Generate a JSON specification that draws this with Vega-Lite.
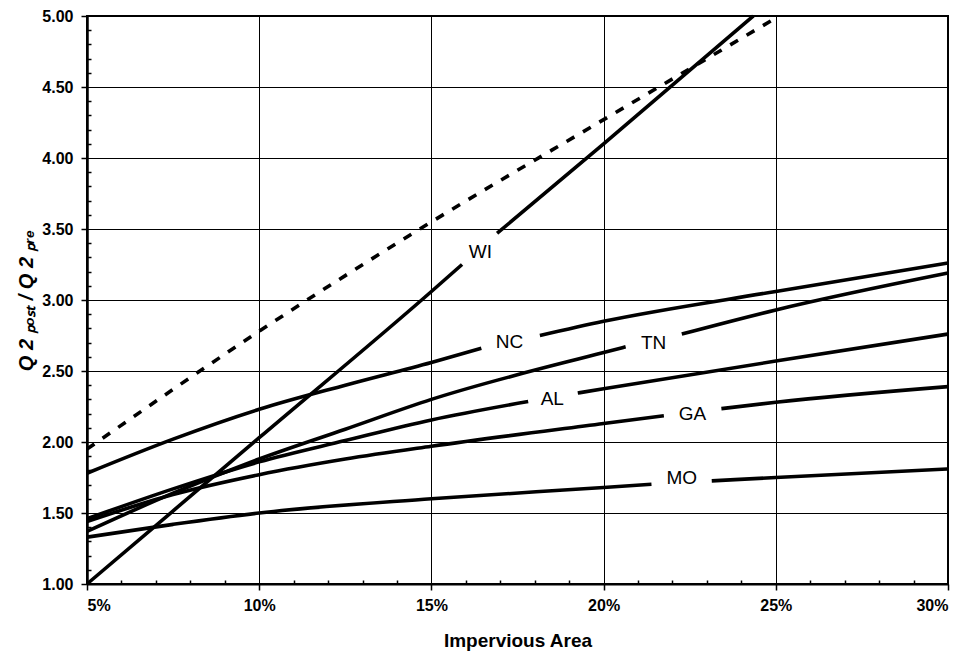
{
  "$schema": "https://vega.github.io/schema/vega-lite/v6.json",
  "width": 861,
  "height": 568,
  "autosize": "none",
  "padding": {"left": 87, "top": 16, "right": 21, "bottom": 73},
  "background": "white",
  "config": {
    "font": "Liberation Sans",
    "view": {"stroke": "black", "strokeWidth": 2}
  },
  "datasets": {
    "curves": [
      {"s": "WI", "seg": "WI1", "x": 5, "y": 1.0},
      {"s": "WI", "seg": "WI1", "x": 10, "y": 2.03},
      {"s": "WI", "seg": "WI1", "x": 15, "y": 3.06},
      {"s": "WI", "seg": "WI1", "x": 15.89, "y": 3.25},
      {"s": "WI", "seg": "WI2", "x": 16.91, "y": 3.47},
      {"s": "WI", "seg": "WI2", "x": 20, "y": 4.1},
      {"s": "WI", "seg": "WI2", "x": 24.35, "y": 5.0},
      {"s": "NC", "seg": "NC1", "x": 5, "y": 1.78},
      {"s": "NC", "seg": "NC1", "x": 7.5, "y": 2.02},
      {"s": "NC", "seg": "NC1", "x": 10, "y": 2.23},
      {"s": "NC", "seg": "NC1", "x": 12.5, "y": 2.4},
      {"s": "NC", "seg": "NC1", "x": 15, "y": 2.56},
      {"s": "NC", "seg": "NC1", "x": 16.45, "y": 2.66},
      {"s": "NC", "seg": "NC2", "x": 18.15, "y": 2.75},
      {"s": "NC", "seg": "NC2", "x": 20, "y": 2.85},
      {"s": "NC", "seg": "NC2", "x": 25, "y": 3.06},
      {"s": "NC", "seg": "NC2", "x": 30, "y": 3.26},
      {"s": "TN", "seg": "TN1", "x": 5, "y": 1.37},
      {"s": "TN", "seg": "TN1", "x": 7.5, "y": 1.64},
      {"s": "TN", "seg": "TN1", "x": 10, "y": 1.88},
      {"s": "TN", "seg": "TN1", "x": 12.5, "y": 2.09},
      {"s": "TN", "seg": "TN1", "x": 15, "y": 2.3},
      {"s": "TN", "seg": "TN1", "x": 20, "y": 2.63},
      {"s": "TN", "seg": "TN1", "x": 20.64, "y": 2.67},
      {"s": "TN", "seg": "TN2", "x": 22.27, "y": 2.76},
      {"s": "TN", "seg": "TN2", "x": 25, "y": 2.93},
      {"s": "TN", "seg": "TN2", "x": 30, "y": 3.19},
      {"s": "AL", "seg": "AL1", "x": 5, "y": 1.46},
      {"s": "AL", "seg": "AL1", "x": 7.5, "y": 1.67},
      {"s": "AL", "seg": "AL1", "x": 10, "y": 1.86},
      {"s": "AL", "seg": "AL1", "x": 12.5, "y": 2.01},
      {"s": "AL", "seg": "AL1", "x": 15, "y": 2.155},
      {"s": "AL", "seg": "AL1", "x": 17.81, "y": 2.285},
      {"s": "AL", "seg": "AL2", "x": 19.25, "y": 2.345},
      {"s": "AL", "seg": "AL2", "x": 20, "y": 2.375},
      {"s": "AL", "seg": "AL2", "x": 25, "y": 2.57},
      {"s": "AL", "seg": "AL2", "x": 30, "y": 2.76},
      {"s": "GA", "seg": "GA1", "x": 5, "y": 1.44},
      {"s": "GA", "seg": "GA1", "x": 7.5, "y": 1.63},
      {"s": "GA", "seg": "GA1", "x": 10, "y": 1.77},
      {"s": "GA", "seg": "GA1", "x": 12.5, "y": 1.88},
      {"s": "GA", "seg": "GA1", "x": 15, "y": 1.97},
      {"s": "GA", "seg": "GA1", "x": 20, "y": 2.13},
      {"s": "GA", "seg": "GA1", "x": 21.75, "y": 2.185},
      {"s": "GA", "seg": "GA2", "x": 23.42, "y": 2.235},
      {"s": "GA", "seg": "GA2", "x": 25, "y": 2.28},
      {"s": "GA", "seg": "GA2", "x": 30, "y": 2.39},
      {"s": "MO", "seg": "MO1", "x": 5, "y": 1.33},
      {"s": "MO", "seg": "MO1", "x": 7.5, "y": 1.42},
      {"s": "MO", "seg": "MO1", "x": 10, "y": 1.5},
      {"s": "MO", "seg": "MO1", "x": 15, "y": 1.6},
      {"s": "MO", "seg": "MO1", "x": 20, "y": 1.68},
      {"s": "MO", "seg": "MO1", "x": 21.39, "y": 1.703},
      {"s": "MO", "seg": "MO2", "x": 23.14, "y": 1.726},
      {"s": "MO", "seg": "MO2", "x": 25, "y": 1.75},
      {"s": "MO", "seg": "MO2", "x": 30, "y": 1.81},
      {"s": "envelope", "seg": "E1", "x": 5, "y": 1.95},
      {"s": "envelope", "seg": "E1", "x": 10, "y": 2.78},
      {"s": "envelope", "seg": "E1", "x": 15, "y": 3.55},
      {"s": "envelope", "seg": "E1", "x": 20, "y": 4.27},
      {"s": "envelope", "seg": "E1", "x": 25.1, "y": 5.0}
    ],
    "labels": [
      {"label": "WI", "x": 16.42, "y": 3.34},
      {"label": "NC", "x": 17.27, "y": 2.706},
      {"label": "TN", "x": 21.45, "y": 2.7},
      {"label": "AL", "x": 18.51, "y": 2.3},
      {"label": "GA", "x": 22.58, "y": 2.2},
      {"label": "MO", "x": 22.27, "y": 1.744}
    ]
  },
  "layer": [
    {
      "data": {"name": "curves"},
      "transform": [{"filter": "datum.s !== 'envelope'"}],
      "mark": {"type": "line", "color": "black", "strokeWidth": 3.6, "interpolate": "monotone", "strokeCap": "butt"},
      "encoding": {
        "x": {
          "field": "x", "type": "quantitative",
          "scale": {"domain": [5, 30], "nice": false, "zero": false},
          "axis": {
            "values": [5, 6, 7, 8, 9, 10, 11, 12, 13, 14, 15, 16, 17, 18, 19, 20, 21, 22, 23, 24, 25, 26, 27, 28, 29, 30],
            "tickCount": 200,
            "labelExpr": "datum.value % 5 === 0 ? datum.value + '%' : ''",
            "title": "Impervious Area",
            "titleFont": "Liberation Sans", "titleFontSize": 19, "titleFontWeight": "bold", "titleColor": "black", "titlePadding": 18,
            "labelFont": "Liberation Sans", "labelFontSize": 16, "labelFontWeight": "bold", "labelColor": "black", "labelPadding": 7,
            "labelOverlap": false,
            "tickColor": "black",
            "tickSize": {"condition": {"test": "datum.value % 5 === 0", "value": 6}, "value": -4},
            "tickWidth": 1.5,
            "domainColor": "black", "domainWidth": 2,
            "grid": true, "gridColor": "black", "gridWidth": 1,
            "gridOpacity": {"condition": {"test": "datum.value % 5 === 0", "value": 1}, "value": 0}
          }
        },
        "y": {
          "field": "y", "type": "quantitative",
          "scale": {"domain": [1, 5], "nice": false, "zero": false},
          "axis": {
            "values": [1, 1.1, 1.2, 1.3, 1.4, 1.5, 1.6, 1.7, 1.8, 1.9, 2, 2.1, 2.2, 2.3, 2.4, 2.5, 2.6, 2.7, 2.8, 2.9, 3, 3.1, 3.2, 3.3, 3.4, 3.5, 3.6, 3.7, 3.8, 3.9, 4, 4.1, 4.2, 4.3, 4.4, 4.5, 4.6, 4.7, 4.8, 4.9, 5],
            "tickCount": 200,
            "labelExpr": "abs(datum.value * 2 - round(datum.value * 2)) < 0.001 ? format(datum.value, '.2f') : ''",
            "title": "Q 2 ₚₒₛₜ / Q 2 ₚᵣₑ",
            "titleFont": "Liberation Sans", "titleFontSize": 20, "titleFontWeight": "bold", "titleFontStyle": "italic", "titleColor": "black", "titlePadding": 5,
            "labelFont": "Liberation Sans", "labelFontSize": 16, "labelFontWeight": "bold", "labelColor": "black", "labelPadding": 8,
            "labelOverlap": false,
            "tickColor": "black",
            "tickSize": {"condition": {"test": "abs(datum.value * 2 - round(datum.value * 2)) < 0.001", "value": 6}, "value": -4},
            "tickWidth": 1.5,
            "domainColor": "black", "domainWidth": 2.5,
            "grid": true, "gridColor": "black", "gridWidth": 1,
            "gridOpacity": {"condition": {"test": "abs(datum.value * 2 - round(datum.value * 2)) < 0.001", "value": 1}, "value": 0}
          }
        },
        "detail": {"field": "seg", "type": "nominal"}
      }
    },
    {
      "data": {"name": "curves"},
      "transform": [{"filter": "datum.s === 'envelope'"}],
      "mark": {"type": "line", "color": "black", "strokeWidth": 3.6, "interpolate": "monotone", "strokeDash": [9, 10], "strokeCap": "butt"},
      "encoding": {
        "x": {"field": "x", "type": "quantitative"},
        "y": {"field": "y", "type": "quantitative"},
        "detail": {"field": "seg", "type": "nominal"}
      }
    },
    {
      "data": {"name": "labels"},
      "mark": {"type": "text", "font": "Liberation Sans", "fontSize": 19, "color": "black", "align": "center", "baseline": "middle"},
      "encoding": {
        "x": {"field": "x", "type": "quantitative"},
        "y": {"field": "y", "type": "quantitative"},
        "text": {"field": "label", "type": "nominal"}
      }
    }
  ]
}
